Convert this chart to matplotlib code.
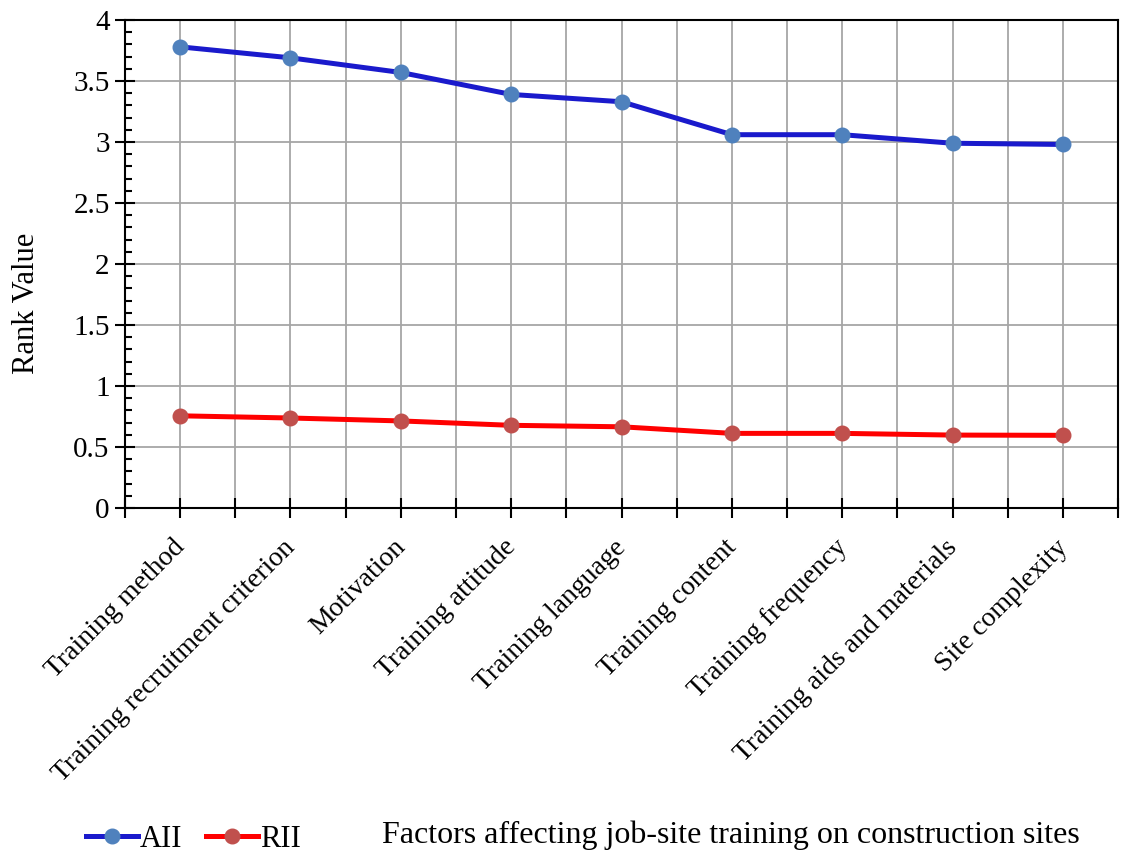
import numpy as np
import matplotlib
matplotlib.use("Agg")
import matplotlib.pyplot as plt
from matplotlib.ticker import MultipleLocator, FuncFormatter

plt.rcParams['font.family'] = ['Liberation Serif', 'DejaVu Serif']

factors = ["Training method", "Training recruitment criterion", "Motivation",
           "Training attitude", "Training language", "Training content",
           "Training frequency", "Training aids and materials", "Site complexity"]
aii = [3.78, 3.69, 3.57, 3.39, 3.33, 3.06, 3.06, 2.99, 2.98]
rii = [0.756, 0.738, 0.714, 0.678, 0.666, 0.612, 0.612, 0.598, 0.596]

fig = plt.figure(figsize=(11.24, 8.55), dpi=100)
ax = fig.add_axes([0.1112, 0.4058, 0.8835, 0.5708])

x = np.arange(1, len(factors) + 1)
ax.plot(x, aii, color='#1a1acc', lw=3.6, marker='o', ms=10.5,
        mfc='#4f81bd', mec='#4f81bd', label='AII', zorder=3)
ax.plot(x, rii, color='#ff0000', lw=3.6, marker='o', ms=10.5,
        mfc='#c0504d', mec='#c0504d', label='RII', zorder=3)

ax.set_xlim(0.5, len(factors) + 0.5)
ax.set_ylim(0, 4)
ax.yaxis.set_major_locator(MultipleLocator(0.5))
ax.yaxis.set_minor_locator(MultipleLocator(0.1))
ax.yaxis.set_major_formatter(FuncFormatter(lambda v, p: '{:g}'.format(v)))
ax.xaxis.set_major_locator(MultipleLocator(0.5))
ax.set_xticklabels([])

ax.grid(True, which='major', color='#a6a6a6', lw=1.3)
ax.set_axisbelow(True)
for s in ax.spines.values():
    s.set_color('black')
    s.set_linewidth(1.5)

ax.tick_params(axis='y', which='major', direction='inout', length=14, width=1.5,
               labelsize=21, pad=4)
ax.tick_params(axis='y', which='minor', direction='in', length=5, width=1.5)
ax.tick_params(axis='x', which='major', direction='inout', length=14, width=1.5)

# rotated category labels, right end at the category centre
for xi, lab in zip(x, factors):
    ax.text(xi - 0.07, -0.22, lab, rotation=45, ha='right', va='top',
            rotation_mode='anchor', fontsize=20, transform=ax.transData)

ax.set_ylabel('Rank Value', fontsize=22)
ax.yaxis.set_label_coords(-0.085, 0.42)

fig.legend(loc='center left', bbox_to_anchor=(0.052, 0.018), ncol=2, frameon=False,
           fontsize=22, handlelength=1.7, handletextpad=0.05, columnspacing=0.8)
fig.text(0.65, 0.023, 'Factors affecting job-site training on construction sites',
         ha='center', va='center', fontsize=23)

fig.savefig('out.png', dpi=100)
